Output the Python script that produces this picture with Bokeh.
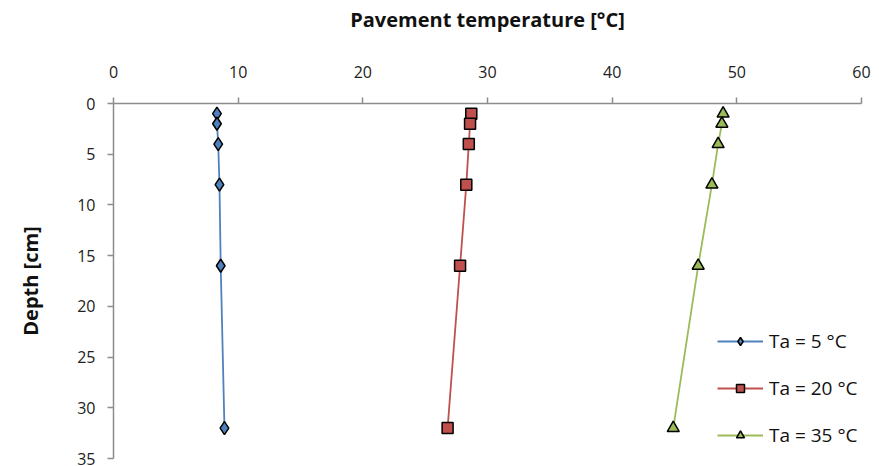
from bokeh.plotting import figure
from bokeh.models import Range1d, Legend, LegendItem, FixedTicker
from bokeh.embed import file_html
from bokeh.resources import INLINE

depth = [1, 2, 4, 8, 16, 32]
temp_5 = [8.3, 8.3, 8.4, 8.5, 8.6, 8.9]
temp_20 = [28.7, 28.6, 28.5, 28.3, 27.8, 26.8]
temp_35 = [48.9, 48.8, 48.5, 48.0, 46.9, 44.9]
series_labels = ["Ta = 5 °C", "Ta = 20 °C", "Ta = 35 °C"]
x_ticks = [0, 10, 20, 30, 40, 50, 60]
y_ticks = [0, 5, 10, 15, 20, 25, 30, 35]

FONT = "Open Sans"
p = figure(width=871, height=466, output_backend="svg", toolbar_location=None,
           x_range=Range1d(0, 60), y_range=Range1d(35, 0),
           x_axis_location="above", min_border_left=113, min_border_right=10,
           min_border_top=103, min_border_bottom=8)
p.outline_line_color = None
p.xgrid.visible = False
p.ygrid.visible = False

for ax in [p.xaxis[0], p.yaxis[0]]:
    ax.axis_line_color = "#8c8c8c"
    ax.axis_line_width = 1.5
    ax.major_tick_line_color = "#8c8c8c"
    ax.major_tick_line_width = 1.5
    ax.major_tick_in = 0
    ax.major_tick_out = 6
    ax.minor_tick_line_color = None
    ax.major_label_text_font = FONT
    ax.major_label_text_font_size = "16px"
    ax.major_label_text_color = "#222222"
    ax.axis_label_text_font = FONT
    ax.axis_label_text_font_size = "20px"
    ax.axis_label_text_font_style = "bold"
    ax.axis_label_text_color = "#111111"

p.xaxis.ticker = FixedTicker(ticks=x_ticks)
p.yaxis.ticker = FixedTicker(ticks=y_ticks)
p.xaxis.axis_label = "Pavement temperature [°C]"
p.yaxis.axis_label = "Depth [cm]"
p.xaxis.major_label_standoff = 20
p.xaxis.axis_label_standoff = 30
p.yaxis.major_label_standoff = 12
p.yaxis.axis_label_standoff = 30

colors = ["#4F81BD", "#C0504D", "#9BBB59"]
data = [temp_5, temp_20, temp_35]
markers = ["diamond", "square", "triangle"]
sizes = [13, 11, 12]
items = []
for t, c, m, s, lab in zip(data, colors, markers, sizes, series_labels):
    l = p.line(t, depth, line_color=c, line_width=1.8)
    sc = p.scatter(t, depth, marker=m, size=s, fill_color=c, line_color="black", line_width=1.5)
    items.append(LegendItem(label=lab, renderers=[l, sc]))

legend = Legend(items=items, location=(604, 10))
legend.border_line_color = None
legend.background_fill_alpha = 0
legend.label_text_font = FONT
legend.label_text_font_size = "19px"
legend.label_text_color = "#111111"
legend.glyph_width = 46
legend.spacing = 21
legend.margin = 0
legend.padding = 0
legend.label_standoff = 6
p.add_layout(legend)

open("out.html", "w").write(file_html(p, INLINE))
